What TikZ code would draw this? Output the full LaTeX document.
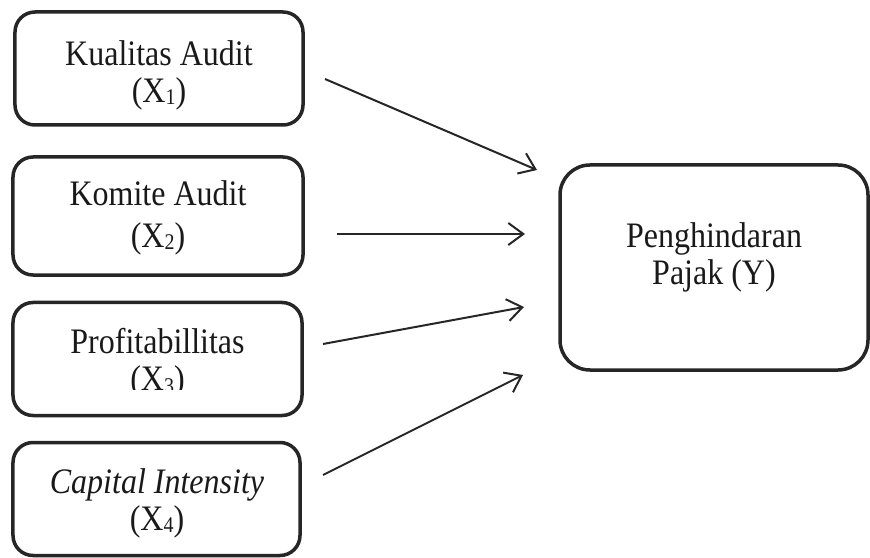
\documentclass[tikz,border=0pt]{standalone}
\usepackage{fontspec}
\setmainfont{Liberation Serif}
\usetikzlibrary{arrows.meta}
\newcommand{\tallline}[1]{\scalebox{1}[1.12]{#1}}
\newcommand{\subdigit}[1]{\raisebox{-2bp}{\fontsize{20bp}{20bp}\selectfont #1}}
\tikzset{
  varbox/.style={draw=black!85, line width=3.5bp, rounded corners=20bp, minimum width=#1, minimum height=113bp, inner sep=0pt},
  varbox/.default=288bp,
  boxtext/.style={inner sep=0pt, align=center, font=\fontsize{32bp}{37bp}\selectfont, text=black!90},
  conn/.style={draw=black!85, line width=2bp, -{Straight Barb[length=15bp,width=22bp,line width=2bp]}}
}
\begin{document}
\begin{tikzpicture}[x=1bp,y=-1bp]
\useasboundingbox (0,0) rectangle (870,558);
% boxes
\node[varbox] (x1) at (159,68.5) {};
\node[varbox=290bp, minimum height=118bp] (x2) at (158,216) {};
\node[varbox=289bp] (x3) at (157.5,359) {};
\node[varbox=287bp] (x4) at (156.5,499) {};
\node[varbox=308bp, minimum height=205bp, rounded corners=30bp] (y) at (714,267.5) {};
% texts
\node[boxtext] (t1) at (159,75.5) {\tallline{Kualitas Audit}\\\tallline{(X\subdigit{1})}};
\node[boxtext, font=\fontsize{32bp}{42bp}\selectfont] (t2) at (158,218) {\tallline{Komite Audit}\\\tallline{(X\subdigit{2})}};
\begin{scope}
\clip (0,300) rectangle (870,389.5);
\node[boxtext] (t3) at (157.5,363.5) {\tallline{Profitabillitas}\\\tallline{(X\subdigit{3})}};
\end{scope}
\node[boxtext] (t4) at (157,503.5) {\tallline{\textit{Capital Intensity}}\\\tallline{(X\subdigit{4})}};
\node[boxtext] (ty) at (714,257) {\tallline{Penghindaran}\\\tallline{Pajak (Y)}};
% arrow ends
\coordinate (s1) at (325,79);  \coordinate (e1) at (537,170);
\coordinate (s2) at (337,234); \coordinate (e2) at (525,234);
\coordinate (s3) at (323,344); \coordinate (e3) at (524,307);
\coordinate (s4) at (323,475); \coordinate (e4) at (523,375);
\draw[conn] (s1) -- (e1);
\draw[conn] (s2) -- (e2);
\draw[conn] (s3) -- (e3);
\draw[conn] (s4) -- (e4);
\end{tikzpicture}
\end{document}
